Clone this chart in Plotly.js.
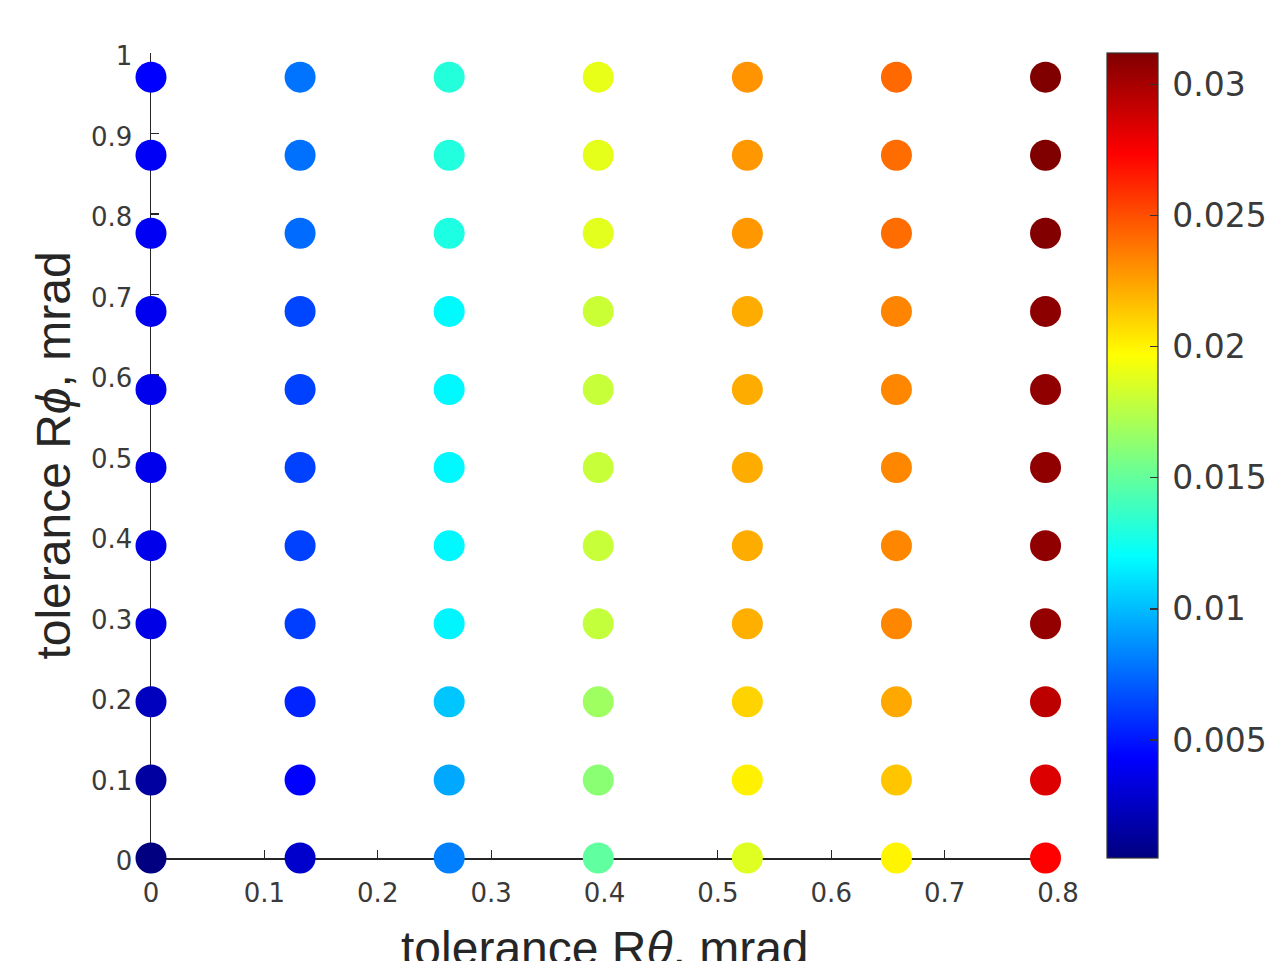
<!DOCTYPE html>
<html>
<head>
<meta charset="utf-8">
<script src="https://cdn.plot.ly/plotly-3.0.1.min.js"></script>
<style>html,body{margin:0;padding:0;background:#fff;}#chart{width:1267px;height:961px;}</style>
</head>
<body>
<div id="chart"></div>
<script>
// tolerance R-theta (mrad), one value per column of dots
const tolTheta = [0, 0.1315, 0.263, 0.3945, 0.526, 0.6575, 0.789];
// tolerance R-phi (mrad), one value per row of dots
const tolPhi = [0, 0.097, 0.194, 0.291, 0.388, 0.485, 0.582, 0.679, 0.776, 0.873, 0.970];

// colour value of each dot, listed bottom-to-top for each column
const zTheta0 = [0.0005, 0.0015, 0.0024, 0.0036, 0.0037, 0.0038, 0.0038, 0.0039, 0.0040, 0.0041, 0.0043];
const zTheta1 = [0.0028, 0.0043, 0.0054, 0.0062, 0.0063, 0.0063, 0.0063, 0.0064, 0.0076, 0.0077, 0.0078];
const zTheta2 = [0.0082, 0.0094, 0.0103, 0.0117, 0.0118, 0.0118, 0.0118, 0.0119, 0.0129, 0.0130, 0.0131];
const zTheta3 = [0.0149, 0.0162, 0.0168, 0.0179, 0.0180, 0.0180, 0.0180, 0.0181, 0.0188, 0.0189, 0.0190];
const zTheta4 = [0.0187, 0.0201, 0.0210, 0.0221, 0.0222, 0.0222, 0.0222, 0.0222, 0.0228, 0.0228, 0.0229];
const zTheta5 = [0.0200, 0.0214, 0.0223, 0.0233, 0.0233, 0.0233, 0.0233, 0.0234, 0.0241, 0.0241, 0.0242];
const zTheta6 = [0.0274, 0.0284, 0.0294, 0.0306, 0.0307, 0.0307, 0.0307, 0.0308, 0.0311, 0.0312, 0.0312];
const zColumns = [zTheta0, zTheta1, zTheta2, zTheta3, zTheta4, zTheta5, zTheta6];

const xTickVals = [0, 0.1, 0.2, 0.3, 0.4, 0.5, 0.6, 0.7, 0.8];
const xTickText = ['0', '0.1', '0.2', '0.3', '0.4', '0.5', '0.6', '0.7', '0.8'];
const yTickVals = [0, 0.1, 0.2, 0.3, 0.4, 0.5, 0.6, 0.7, 0.8, 0.9, 1];
const yTickText = ['0', '0.1', '0.2', '0.3', '0.4', '0.5', '0.6', '0.7', '0.8', '0.9', '1'];
const cTickVals = [0.005, 0.01, 0.015, 0.02, 0.025, 0.03];
const cTickText = ['0.005', '0.01', '0.015', '0.02', '0.025', '0.03'];

const xs = [], ys = [], zs = [];
tolTheta.forEach((t, i) => {
  tolPhi.forEach((p, j) => {
    xs.push(t); ys.push(p); zs.push(zColumns[i][j]);
  });
});

const jet = [
  [0, 'rgb(0,0,128)'],
  [0.125, 'rgb(0,0,255)'],
  [0.375, 'rgb(0,255,255)'],
  [0.625, 'rgb(255,255,0)'],
  [0.875, 'rgb(255,0,0)'],
  [1, 'rgb(128,0,0)']
];

const axisColor = '#262626';
const tickFont = {family: 'DejaVu Sans', size: 26, color: '#3a3a3a'};
const titleFont = {family: 'Liberation Sans, Arial, sans-serif', size: 48, color: '#262626'};

const trace = {
  type: 'scatter',
  mode: 'markers',
  x: xs, y: ys,
  cliponaxis: false,
  marker: {
    size: 31,
    color: zs,
    colorscale: jet,
    cmin: 0.0005,
    cmax: 0.0312,
    line: {width: 0},
    colorbar: {
      x: 1107 / 1267, xanchor: 'left', xref: 'container', xpad: 0,
      y: 0.5, yanchor: 'middle', ypad: 0,
      len: 1, lenmode: 'fraction',
      thickness: 51, thicknessmode: 'pixels',
      outlinewidth: 1.2, outlinecolor: '#333333',
      ticks: 'inside', ticklen: 8, tickwidth: 1.2, tickcolor: '#333333',
      tickvals: cTickVals, ticktext: cTickText.map(s => '\u2009' + s),
      tickfont: {family: 'DejaVu Sans', size: 33, color: '#3a3a3a'}
    }
  },
  hoverinfo: 'x+y'
};

const layout = {
  width: 1267, height: 961,
  margin: {l: 151, r: 209, t: 53, b: 103, pad: 0},
  paper_bgcolor: '#ffffff', plot_bgcolor: '#ffffff',
  showlegend: false,
  xaxis: {
    range: [0, 0.8], autorange: false,
    tickvals: xTickVals, ticktext: xTickText,
    ticks: 'inside', ticklen: 8, tickwidth: 1.2, tickcolor: axisColor,
    showline: true, linecolor: axisColor, linewidth: 1.5,
    showgrid: false, zeroline: false, mirror: false,
    layer: 'below traces',
    tickfont: tickFont, ticklabelstandoff: 11,
    automargin: false
  },
  yaxis: {
    range: [0, 1], autorange: false,
    tickvals: yTickVals, ticktext: yTickText,
    ticks: 'inside', ticklen: 8, tickwidth: 1.2, tickcolor: axisColor,
    showline: true, linecolor: axisColor, linewidth: 1.5,
    showgrid: false, zeroline: false, mirror: false,
    layer: 'below traces',
    tickfont: tickFont, ticklabelstandoff: 12, ticklabelshift: 3,
    automargin: false,
    title: {text: 'tolerance R<i>ϕ</i>, mrad', font: titleFont, standoff: 5}
  },
  annotations: [{
    text: 'tolerance R<i>θ</i>, mrad',
    xref: 'paper', yref: 'paper',
    x: 0.5, xanchor: 'center',
    y: -62 / 805, yanchor: 'top',
    showarrow: false,
    font: titleFont
  }]
};

Plotly.newPlot('chart', [trace], layout, {displayModeBar: false, staticPlot: true});
</script>
</body>
</html>
